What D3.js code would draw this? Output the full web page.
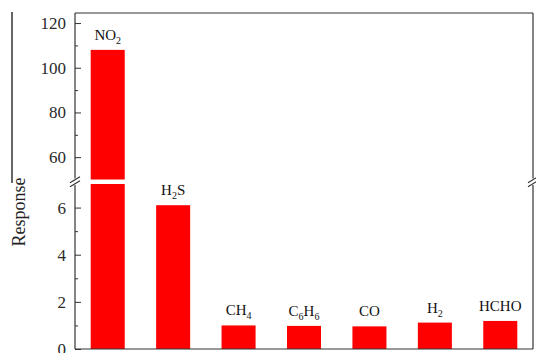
<!DOCTYPE html>
<html>
<head>
<meta charset="utf-8">
<script src="https://cdn.jsdelivr.net/npm/d3@7"></script>
<style>
  html, body { margin: 0; padding: 0; background: #fff; }
  svg { display: block; }
  svg text { font-family: "Liberation Serif", "Times New Roman", serif !important; }
</style>
</head>
<body>
<svg id="chart" width="536" height="353"></svg>
<script>
// Gas names (label parts: [text, isSubscript])
const gases = ["NO2", "H2S", "CH4", "C6H6", "CO", "H2", "HCHO"];
const gasLabels = [
  [["NO", false], ["2", true]],
  [["H", false], ["2", true], ["S", false]],
  [["CH", false], ["4", true]],
  [["C", false], ["6", true], ["H", false], ["6", true]],
  [["CO", false]],
  [["H", false], ["2", true]],
  [["HCHO", false]]
];
const responses = [108, 6.1, 1.0, 0.98, 0.96, 1.12, 1.19];

// Broken y axis: upper and lower segments
const upperMajor = [60, 80, 100, 120];
const upperMinor = [70, 90, 110];
const lowerMajor = [0, 2, 4, 6];
const lowerMinor = [1, 3, 5];
const upperDomain = [50, 124.5];
const lowerDomain = [0, 7];

const svg = d3.select("#chart");
const mLeft = 75, mRight = 533, mTop = 13, mBottom = 349;
const breakTop = 179.5, breakBot = 184;
const serif = "'Liberation Serif', 'Times New Roman', serif";

const x = d3.scaleBand().domain(gases).range([mLeft, mRight])
  .paddingInner(0.48).paddingOuter(0.24);
const yTop = d3.scaleLinear().domain(upperDomain).range([breakTop, mTop]);
const yBot = d3.scaleLinear().domain(lowerDomain).range([mBottom, breakBot]);

const ink = "#333";
const red = "#ff0000";

// stray vertical rule at far left
svg.append("line").attr("x1", 12).attr("x2", 12).attr("y1", 12).attr("y2", 183)
  .attr("stroke", "#000").attr("stroke-width", 1.2);

// Bars (split across the axis break when needed)
const data = gases.map((g, i) => ({ g, v: responses[i], lab: gasLabels[i] }));
data.forEach(d => {
  const bx = x(d.g), bw = x.bandwidth();
  const lowTop = yBot(Math.min(d.v, lowerDomain[1]));
  svg.append("rect").attr("x", bx).attr("width", bw)
    .attr("y", lowTop).attr("height", mBottom - lowTop).attr("fill", red);
  if (d.v > upperDomain[0]) {
    const upTop = yTop(d.v);
    svg.append("rect").attr("x", bx).attr("width", bw)
      .attr("y", upTop).attr("height", breakTop - upTop).attr("fill", red);
  }
});

// Bar labels with subscripts
data.forEach(d => {
  const yv = d.v > upperDomain[0] ? yTop(d.v) : yBot(d.v);
  const t = svg.append("text")
    .attr("x", x(d.g) + x.bandwidth() / 2)
    .attr("y", yv - 10)
    .attr("text-anchor", "middle")
    .attr("font-size", 15)
    .style("font-family", serif)
    .attr("fill", "#111");
  let inSub = false;
  d.lab.forEach(([s, sub]) => {
    const ts = t.append("tspan").text(s);
    if (sub) { ts.attr("font-size", 10).attr("dy", inSub ? 0 : 4); inSub = true; }
    else { ts.attr("dy", inSub ? -4 : 0); inSub = false; }
  });
});

// Axis segment with inward major/minor ticks
function axisSeg(scale, major, minor, yRange, xPos) {
  const g = svg.append("g").attr("transform", `translate(${xPos},0)`);
  g.call(d3.axisLeft(scale).tickValues(major).tickSize(-6).tickPadding(9)
    .tickFormat(d3.format("d")));
  g.attr("font-family", null);
  g.select(".domain").remove();
  g.selectAll(".tick line").attr("stroke", ink).attr("stroke-width", 1);
  g.selectAll(".tick text").attr("font-size", 17).attr("fill", "#2a2a2a")
    .style("font-family", serif);
  const gm = svg.append("g").attr("transform", `translate(${xPos},0)`);
  gm.call(d3.axisLeft(scale).tickValues(minor).tickSize(-3).tickFormat(() => ""));
  gm.select(".domain").remove();
  gm.selectAll(".tick line").attr("stroke", ink);
  svg.append("line").attr("x1", xPos).attr("x2", xPos)
    .attr("y1", yRange[0]).attr("y2", yRange[1])
    .attr("stroke", ink).attr("stroke-width", 1.2);
}
axisSeg(yTop, upperMajor, upperMinor, [mTop, breakTop - 1], mLeft);
axisSeg(yBot, lowerMajor, lowerMinor, [breakBot + 1, mBottom], mLeft);

// Right border with break
svg.append("line").attr("x1", mRight).attr("x2", mRight).attr("y1", mTop).attr("y2", breakTop - 1)
  .attr("stroke", ink).attr("stroke-width", 1.2);
svg.append("line").attr("x1", mRight).attr("x2", mRight).attr("y1", breakBot + 1).attr("y2", mBottom)
  .attr("stroke", ink).attr("stroke-width", 1.2);

// Top and bottom frame
svg.append("line").attr("x1", mLeft).attr("x2", mRight).attr("y1", mTop).attr("y2", mTop)
  .attr("stroke", ink).attr("stroke-width", 1.2);
svg.append("line").attr("x1", mLeft).attr("x2", mRight).attr("y1", mBottom).attr("y2", mBottom)
  .attr("stroke", ink).attr("stroke-width", 1.2);

// Break marks
[mLeft, mRight].forEach(xp => {
  [-2, 2].forEach(off => {
    svg.append("line")
      .attr("x1", xp - 5).attr("y1", (breakTop + breakBot) / 2 + off + 3)
      .attr("x2", xp + 5).attr("y2", (breakTop + breakBot) / 2 + off - 3)
      .attr("stroke", ink).attr("stroke-width", 1.1);
  });
});

// Y axis title
svg.append("text")
  .attr("transform", "translate(25,212) rotate(-90)")
  .attr("text-anchor", "middle")
  .attr("font-size", 18)
  .style("font-family", serif)
  .attr("fill", "#222")
  .text("Response");
</script>
</body>
</html>
